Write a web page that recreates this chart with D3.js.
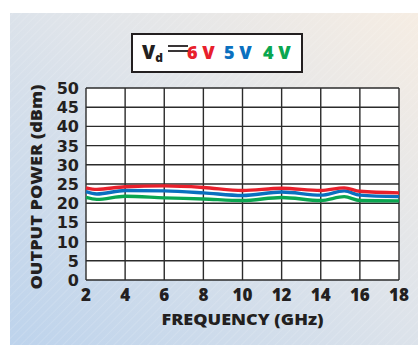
<!DOCTYPE html>
<html lang="en">
<meta charset="UTF-8">
<title>Output power vs frequency</title>
<style>
body {margin:0; background:#fff;}
text {font-family: "Open Sans", "Lato", sans-serif; font-weight: 800;}
text.yl {font-family: "DejaVu Sans", sans-serif; font-weight: bold;}
</style>
<script src="https://d3js.org/d3.v7.min.js"></script>
<body>
<div id="chart"></div>
<script>
// values
var freqs = [2, 2.55, 4, 6, 8, 10, 12, 14, 15.2, 16, 18];
var v6 = [24.0, 23.6, 24.3, 24.5, 24.1, 23.3, 23.9, 23.3, 24.0, 23.1, 22.7];
var v5 = [23.0, 22.4, 23.3, 23.2, 22.7, 22.0, 22.9, 22.1, 23.2, 22.1, 21.7];
var v4 = [21.5, 21.0, 21.8, 21.4, 21.1, 20.7, 21.5, 20.7, 21.7, 20.7, 20.6];
var xTicks = [2, 4, 6, 8, 10, 12, 14, 16, 18];
var yTicks = [0, 5, 10, 15, 20, 25, 30, 35, 40, 45, 50];
var legendLabels = ["6 V", "5 V", "4 V"];
var colors = ["#e8202c", "#0a70bf", "#0aa650"];

var W = 418, H = 345;
var svg = d3.select("#chart").append("svg")
    .attr("width", W).attr("height", H);

// panel background
var defs = svg.append("defs");
var grad = defs.append("linearGradient").attr("id", "bg")
    .attr("x1", "0%").attr("y1", "100%").attr("x2", "100%").attr("y2", "0%");
grad.append("stop").attr("offset", "0%").attr("stop-color", "#bdd3ec");
grad.append("stop").attr("offset", "55%").attr("stop-color", "#dfe4ea");
grad.append("stop").attr("offset", "100%").attr("stop-color", "#f6ede3");
var pat = defs.append("pattern").attr("id", "hatch")
    .attr("width", 6).attr("height", 6)
    .attr("patternUnits", "userSpaceOnUse")
    .attr("patternTransform", "rotate(45)");
pat.append("line").attr("x1", 0).attr("y1", 0).attr("x2", 0).attr("y2", 6)
    .attr("stroke", "#ffffff").attr("stroke-opacity", 0.25).attr("stroke-width", 1);

svg.append("rect").attr("x", 10).attr("y", 13).attr("width", W - 10).attr("height", H - 13)
    .attr("fill", "url(#bg)");
svg.append("rect").attr("x", 10).attr("y", 13).attr("width", W - 10).attr("height", H - 13)
    .attr("fill", "url(#hatch)");

var x = d3.scaleLinear().domain([2, 18]).range([86, 399]);
var y = d3.scaleLinear().domain([0, 50]).range([280, 88]);

// plot area
svg.append("rect")
    .attr("x", x(2)).attr("y", y(50))
    .attr("width", x(18) - x(2)).attr("height", y(0) - y(50))
    .attr("fill", "#fff");

// grid
svg.selectAll(".vg").data(xTicks).enter().append("line")
    .attr("x1", function(d) { return x(d); }).attr("x2", function(d) { return x(d); })
    .attr("y1", y(0)).attr("y2", y(50))
    .attr("stroke", "#2b2b2b").attr("stroke-width", 1.4);
svg.selectAll(".hg").data(yTicks).enter().append("line")
    .attr("y1", function(d) { return y(d); }).attr("y2", function(d) { return y(d); })
    .attr("x1", x(2)).attr("x2", x(18))
    .attr("stroke", "#2b2b2b").attr("stroke-width", 1.4);

// tick labels
svg.selectAll(".yl").data(yTicks).enter().append("text")
    .attr("class", "yl")
    .attr("x", 79).attr("y", function(d) { return y(d) + 6; })
    .attr("text-anchor", "end").attr("font-size", 16).attr("fill", "#231f20")
    .text(function(d) { return d; });
svg.selectAll(".xl").data(xTicks).enter().append("text")
    .attr("x", function(d) { return x(d); }).attr("y", 301)
    .attr("text-anchor", "middle").attr("font-size", 17).attr("fill", "#231f20")
    .text(function(d) { return d; });

// axis titles
svg.append("text").attr("x", x(10)).attr("y", 325)
    .attr("text-anchor", "middle").attr("font-size", 15.5).attr("fill", "#231f20")
    .attr("textLength", 162).attr("lengthAdjust", "spacingAndGlyphs")
    .text("FREQUENCY (GHz)");
svg.append("text")
    .attr("transform", "translate(42,187) rotate(-90)")
    .attr("text-anchor", "middle").attr("font-size", 15.5).attr("fill", "#231f20")
    .attr("textLength", 205).attr("lengthAdjust", "spacingAndGlyphs")
    .text("OUTPUT POWER (dBm)");

// curves
var line = d3.line()
    .x(function(d, i) { return x(freqs[i]); })
    .y(function(d) { return y(d); })
    .curve(d3.curveMonotoneX);
[v4, v5, v6].forEach(function(s, i) {
  svg.append("path").datum(s)
      .attr("d", line).attr("fill", "none")
      .attr("stroke", colors[2 - i]).attr("stroke-width", 3.4);
});

// legend
var lg = svg.append("g");
lg.append("rect").attr("x", 132).attr("y", 34).attr("width", 170).attr("height", 38)
    .attr("fill", "#fff").attr("stroke", "#231f20").attr("stroke-width", 2);
var lt = lg.append("text").attr("x", 142).attr("y", 59).attr("font-size", 19).attr("fill", "#231f20");
lt.append("tspan").text("V");
lt.append("tspan").attr("font-size", 12).attr("dy", 3).text("d");
lg.append("line").attr("x1", 168).attr("x2", 188).attr("y1", 46).attr("y2", 46)
    .attr("stroke", "#231f20").attr("stroke-width", 1.8);
lg.append("line").attr("x1", 168).attr("x2", 191).attr("y1", 51).attr("y2", 51)
    .attr("stroke", "#231f20").attr("stroke-width", 1.8);
var lx = [187, 224, 263];
legendLabels.forEach(function(t, i) {
  lg.append("text").attr("x", lx[i]).attr("y", 59).attr("font-size", 18)
      .attr("fill", colors[i]).text(t);
});
</script>
</body>
</html>
